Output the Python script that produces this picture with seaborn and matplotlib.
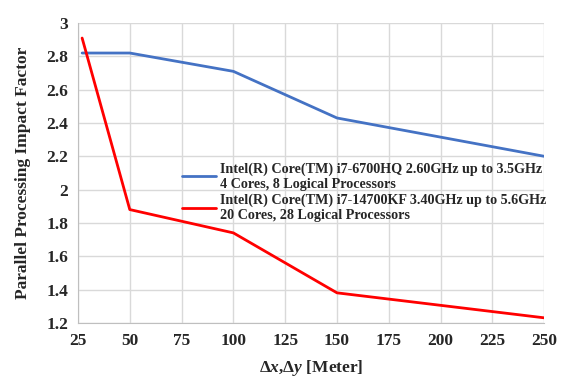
import pandas as pd
import matplotlib.pyplot as plt
import seaborn as sns

spacing = [27, 50, 100, 150, 250]
pif_6700hq = [2.82, 2.82, 2.71, 2.43, 2.20]
pif_14700kf = [2.91, 1.88, 1.74, 1.38, 1.23]
label_6700hq = "Intel(R) Core(TM) i7-6700HQ 2.60GHz up to 3.5GHz\n4 Cores, 8 Logical Processors"
label_14700kf = "Intel(R) Core(TM) i7-14700KF 3.40GHz up to 5.6GHz\n20 Cores, 28 Logical Processors"
x_ticks = [25, 50, 75, 100, 125, 150, 175, 200, 225, 250]
y_ticks = [1.2, 1.4, 1.6, 1.8, 2, 2.2, 2.4, 2.6, 2.8, 3]

df = pd.DataFrame({
    'spacing': spacing * 2,
    'pif': pif_6700hq + pif_14700kf,
    'cpu': [label_6700hq] * len(spacing) + [label_14700kf] * len(spacing),
})

sns.set_style("whitegrid", {'grid.color': '#d9d9d9', 'axes.edgecolor': '#bfbfbf'})
plt.rcParams['font.family'] = ['Liberation Serif', 'DejaVu Serif']
plt.rcParams['font.weight'] = 'bold'
plt.rcParams['mathtext.fontset'] = 'custom'
plt.rcParams['mathtext.it'] = 'Liberation Serif:italic:bold'

fig = plt.figure(figsize=(5.61, 3.78), dpi=100)
ax = fig.add_axes([0.139, 0.146, 0.831, 0.793])

sns.lineplot(data=df, x='spacing', y='pif', hue='cpu',
             palette=['#4472C4', '#FF0000'], linewidth=2, ax=ax)

ax.set_xlim(25, 250)
ax.set_ylim(1.2, 3)
ax.set_xticks(x_ticks)
ax.set_xticklabels([str(v) for v in x_ticks], fontsize=12.5, fontweight='bold')
ax.set_yticks(y_ticks)
ax.set_yticklabels([f'{v:g}' for v in y_ticks], fontsize=12.5, fontweight='bold')
ax.tick_params(length=0, pad=7)

for side in ['top', 'right']:
    ax.spines[side].set_visible(False)
ax.grid(True, linewidth=1)

ax.set_xlabel('Δ$\\mathit{x}$,Δ$\\mathit{y}$ [Meter]', fontsize=12.5, fontweight='bold', labelpad=7)
ax.set_ylabel('Parallel Processing Impact Factor', fontsize=12.5, fontweight='bold', labelpad=11)

ax.legend(loc='upper left', bbox_to_anchor=(0.21, 0.555), frameon=False,
          prop={'size': 10.2, 'weight': 'bold'}, handlelength=2.4, handletextpad=0.3,
          labelspacing=0.2, borderaxespad=0)

fig.savefig('out.png', dpi=100)
